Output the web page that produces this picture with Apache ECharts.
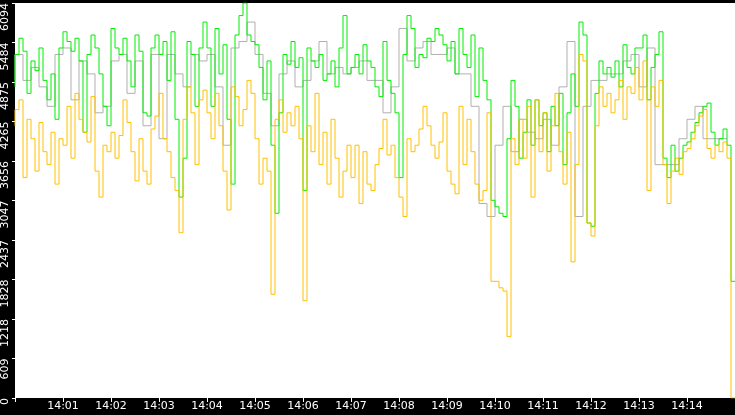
<!DOCTYPE html>
<html>
<head>
<meta charset="utf-8">
<script src="https://cdn.jsdelivr.net/npm/echarts@6/dist/echarts.min.js"></script>
<style>
  html, body { margin: 0; padding: 0; background: #000; }
  #chart { width: 735px; height: 415px; }
</style>
</head>
<body>
<div id="chart"></div>
<script>
// samples every 5 s, starting 14:00:00
const greenValues = [
  4800,5300,5550,5350,4700,5200,5050,5400,4900,4600,5000,4300,
  5400,5650,5500,5350,5550,5200,4100,5300,5600,5400,5000,4500,
  4200,5700,5400,5300,5550,5200,4800,5600,5350,4400,4350,5400,
  5600,5300,5500,4900,5650,4300,3100,3700,5500,5300,4500,5400,5800,
  5400,4500,5700,5000,5450,4300,3300,5600,5900,6094,5600,5500,
  5450,5100,4600,5200,3900,2850,4400,5300,5150,5500,5100,5250,
  3200,5400,5200,5100,5300,4900,5000,5200,4800,5400,5900,5000,
  5100,5300,5000,5450,5200,5100,4800,4650,5500,4900,4700,4400,
  3400,5300,5900,5700,5100,5300,5250,5550,5500,5700,5600,5450,
  5200,5500,5000,5700,5300,5100,5600,4650,5400,4900,4600,3050,
  2950,2850,2800,4000,4900,4500,3700,4100,4600,3900,4600,4200,
  4400,3800,4500,4200,4700,3600,4400,5000,4500,5800,5600,2700,
  2650,4700,5200,5000,5100,4950,5200,4800,5450,5100,5000,5400,
  5400,5600,4600,5100,5300,5650,3700,3400,3900,3500,3700,3900,
  3950,4100,4250,4400,4500,4550,4100,3900,4000,4150,3900,1800
];
const orangeValues = [
  4200,4450,4600,3400,4300,4000,3500,4250,3800,3600,4100,3300,
  4000,3900,4500,3700,4700,4300,4100,3950,4650,3500,3100,3900,
  3800,4100,3700,4050,4600,4250,3800,3350,4000,3500,3300,4150,
  4350,4700,4000,3800,3400,3200,2550,4300,4800,4400,3600,4600,4750,
  4400,4000,4700,4200,3500,2900,4800,4650,4200,4450,4900,4700,
  4000,3300,3700,3500,1600,4300,4600,4100,4400,4200,4500,4000,
  1500,4200,3800,4700,3600,4100,3300,4300,3700,3100,3500,3900,
  3400,3900,3000,3800,3300,3200,3600,3850,4300,3750,3900,3400,
  3100,2800,4000,3800,3900,4150,4500,4200,3900,3700,3950,4400,
  3500,3300,3150,4500,3600,4300,3800,3300,3050,3200,4400,1800,
  1800,1700,1650,950,4000,3600,4300,3700,4500,3100,4600,3800,
  4400,3500,4200,4700,3800,3300,4100,2100,3600,5300,5200,2700,
  2500,4200,4800,4500,4700,4400,4600,4900,4300,4800,4700,5100,
  4600,5200,3200,4800,4500,4900,3600,3000,3500,3700,3450,3800,
  3850,4000,4200,4350,4450,3850,3700,3900,3800,3950,3700,0
];
// samples every 10 s
const grayValues = [
  4900,5300,4900,5100,4800,4500,5300,5400,4600,5200,5000,4400,
  4500,5200,5300,4700,5200,4200,5300,4000,5300,5000,4800,5300,
  5200,5300,4800,3900,5400,5500,5800,5300,4700,4200,5000,5200,
  4800,4900,5200,5500,5000,5100,5000,5100,5200,4900,4900,4400,
  4800,5700,5200,5400,5500,5300,5300,5400,5000,5000,4500,3000,
  2800,3900,4500,3800,4300,4100,4000,4300,3900,4800,5500,2800,
  4500,4900,4900,5000,5000,5200,5300,4800,5400,3600,3600,3600,
  4000,4300,4500,4000,4000,4000
];
const tickLabels = ['14:01','14:02','14:03','14:04','14:05','14:06','14:07','14:08','14:09','14:10','14:11','14:12','14:13','14:14'];

const start = new Date(2024, 0, 1, 14, 0, 0).getTime();
function toSeries(values, stepSec) {
  return values.map((v, i) => [start + i * stepSec * 1000, v]);
}

let myChart = echarts.init(document.getElementById('chart'));
let option = {
  backgroundColor: '#000',
  animation: false,
  grid: {
    left: 15, right: 0, top: 2, bottom: 17,
    show: true, backgroundColor: '#fff', borderWidth: 0
  },
  xAxis: {
    type: 'time',
    min: start,
    max: start + 15 * 60 * 1000,
    minInterval: 60 * 1000,
    maxInterval: 60 * 1000,
    splitLine: { show: false },
    axisLine: { show: false },
    axisTick: { show: true, length: 4, lineStyle: { color: '#fff' } },
    axisLabel: {
      color: '#fff', fontSize: 11, fontFamily: 'DejaVu Sans', margin: 3,
      hideOverlap: false, interval: 0,
      showMinLabel: false, showMaxLabel: false,
      formatter: function (val) {
        const d = new Date(val);
        const s = String(d.getHours()).padStart(2, '0') + ':' + String(d.getMinutes()).padStart(2, '0');
        return tickLabels.indexOf(s) >= 0 ? s : '';
      }
    }
  },
  yAxis: {
    type: 'value',
    min: 0, max: 6094, interval: 609.4,
    splitLine: { show: false },
    axisLine: { show: false },
    axisTick: { show: true, length: 3, lineStyle: { color: '#fff' } },
    axisLabel: {
      color: '#fff', fontSize: 11, fontFamily: 'DejaVu Sans', rotate: 90,
      align: 'right', verticalAlign: 'bottom', margin: 4,
      formatter: v => String(Math.floor(v + 1e-6))
    }
  },
  series: [
    { type: 'line', step: 'start', symbol: 'none', data: toSeries(grayValues, 10),
      lineStyle: { color: '#b0b0b0', width: 1 }, z: 1 },
    { type: 'line', step: 'start', symbol: 'none', data: toSeries(greenValues, 5),
      lineStyle: { color: '#00ee00', width: 1 }, z: 2 },
    { type: 'line', step: 'start', symbol: 'none', data: toSeries(orangeValues, 5),
      lineStyle: { color: '#ffc000', width: 1 }, z: 3 }
  ]
};
myChart.setOption(option);
</script>
</body>
</html>
